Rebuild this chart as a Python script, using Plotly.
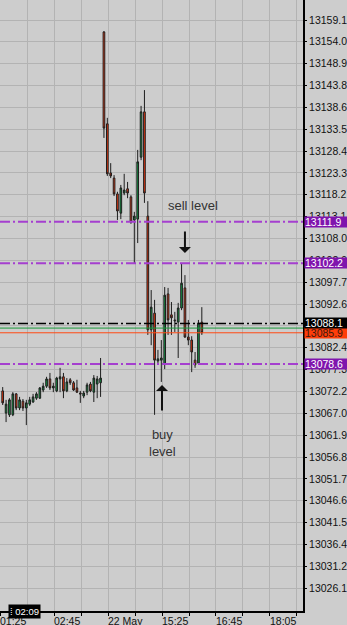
import plotly.graph_objects as go

# ---- data (5-minute candles, index = bar number) ----
bar_index = list(range(60))
opens = [13072.3, 13067.1, 13066.7, 13066.7, 13071.6, 13068.3, 13069.9, 13068.3, 13069.2, 13069.7,
         13070.6, 13070.6, 13072.5, 13073.4, 13075.1, 13073.0, 13072.3, 13075.1, 13075.6, 13072.3,
         13074.9, 13074.2, 13073.0, 13071.8, 13071.1, 13072.0, 13073.9, 13072.0, 13073.9, 13074.2,
         13156.3, 13134.8, 13123.3, 13122.1, 13118.4, 13113.9, 13118.6, 13119.6, 13117.7, 13112.3,
         13112.5, 13127.0, 13137.6, 13113.2, 13086.6, 13090.5, 13079.3, 13079.5, 13078.6, 13095.0,
         13090.1, 13088.9, 13088.4, 13091.7, 13096.4, 13084.9, 13084.2, 13079.5, 13078.8, 13088.4]
highs = [13073.2, 13070.2, 13070.6, 13072.0, 13071.8, 13070.9, 13070.4, 13070.2, 13070.9, 13071.6,
         13072.0, 13073.2, 13074.2, 13075.6, 13076.5, 13074.2, 13075.6, 13077.7, 13076.5, 13075.3,
         13075.3, 13074.6, 13074.9, 13072.3, 13072.3, 13074.2, 13074.4, 13076.0, 13075.8, 13080.0,
         13156.5, 13136.2, 13125.6, 13122.8, 13118.9, 13120.5, 13123.1, 13121.2, 13118.1, 13114.2,
         13128.7, 13139.0, 13142.7, 13116.7, 13095.9, 13093.6, 13081.9, 13084.2, 13096.6, 13096.4,
         13093.1, 13090.8, 13092.9, 13102.2, 13099.4, 13088.9, 13085.1, 13081.4, 13088.9, 13091.9]
lows = [13069.0, 13065.0, 13066.2, 13066.4, 13067.8, 13067.8, 13067.6, 13064.3, 13068.8, 13069.5,
        13070.2, 13070.4, 13072.0, 13073.0, 13072.5, 13072.0, 13072.0, 13072.0, 13070.6, 13072.0,
        13073.7, 13072.3, 13071.8, 13069.5, 13070.6, 13071.3, 13072.0, 13069.7, 13070.6, 13070.9,
        13131.5, 13122.6, 13122.1, 13117.9, 13112.3, 13112.5, 13118.1, 13117.4, 13111.4, 13102.0,
        13106.9, 13126.3, 13116.3, 13085.4, 13083.0, 13066.7, 13078.4, 13074.4, 13077.4, 13085.4,
        13085.4, 13086.1, 13080.0, 13091.2, 13084.7, 13083.0, 13076.7, 13077.7, 13078.6, 13085.4]
closes = [13069.5, 13069.2, 13070.2, 13071.6, 13068.3, 13070.2, 13068.3, 13069.5, 13070.2, 13070.9,
          13071.6, 13073.0, 13073.4, 13075.1, 13073.0, 13073.4, 13075.3, 13075.6, 13072.3, 13074.4,
          13074.2, 13072.5, 13072.0, 13071.6, 13071.8, 13073.7, 13072.3, 13075.3, 13075.1, 13075.3,
          13133.8, 13123.1, 13122.6, 13118.4, 13114.4, 13119.8, 13119.3, 13118.6, 13111.8, 13113.2,
          13125.9, 13137.6, 13118.6, 13086.6, 13091.9, 13079.5, 13079.8, 13080.0, 13094.7, 13088.9,
          13089.4, 13088.7, 13091.7, 13097.5, 13084.9, 13084.2, 13081.4, 13078.4, 13088.2, 13085.9]

y_ticks = [13159.1, 13154.0, 13148.9, 13143.8, 13138.6, 13133.5, 13128.4, 13123.3, 13118.2, 13113.1,
           13108.0, 13102.9, 13097.7, 13092.6, 13087.5, 13082.4, 13077.3, 13072.2, 13067.0, 13061.9,
           13056.8, 13051.7, 13046.6, 13041.5, 13036.4, 13031.2, 13026.1]
time_labels = ["01:25", "02:45", "22 May", "15:25", "16:45", "18:05"]

purple_levels = [13111.9, 13102.2, 13078.6]
ask_level = 13088.1
green_level = 13087.0
bid_level = 13085.9

BG = "#cdcdcd"
GRID = "#b3b3b3"
PURPLE_LINE = "#a53fcf"
PURPLE_BOX = "#7f14ad"
FONT = "Liberation Sans"

fig = go.Figure(go.Candlestick(
    x=bar_index, open=opens, high=highs, low=lows, close=closes,
    increasing=dict(line=dict(color="#1e1e1e", width=1), fillcolor="#139a45"),
    decreasing=dict(line=dict(color="#1e1e1e", width=1), fillcolor="#f5370c"),
    whiskerwidth=0, showlegend=False, hoverinfo="skip"))

x0 = -0.8
x1 = 88.98
grid_vals = [x0 + 8 * k for k in range(12)]

fig.update_layout(
    width=347, height=625,
    margin=dict(l=0, r=44, t=0, b=14),
    paper_bgcolor=BG, plot_bgcolor=BG,
    showlegend=False,
    font=dict(family=FONT, size=10.5, color="#111111"),
    xaxis=dict(range=[x0, x1], tickmode="array", tickvals=grid_vals,
               showticklabels=False, ticks="outside", ticklen=3, tickcolor="#000",
               showgrid=True, gridcolor=GRID, gridwidth=1,
               showline=True, linecolor="#000", linewidth=1.5,
               zeroline=False, rangeslider=dict(visible=False), fixedrange=True),
    yaxis=dict(side="right", range=[13020.79, 13163.78], tickmode="array",
               tickvals=y_ticks, tickformat=".1f",
               ticks="outside", ticklen=2, tickcolor="#000",
               showgrid=True, gridcolor=GRID, gridwidth=1,
               showline=True, linecolor="#000", linewidth=2,
               zeroline=False, fixedrange=True,
               tickfont=dict(family=FONT, size=10.5, color="#111111")),
)

# horizontal level lines
for lv in purple_levels:
    fig.add_shape(type="line", xref="paper", x0=0, x1=1, yref="y", y0=lv, y1=lv,
                  line=dict(color=PURPLE_LINE, width=2, dash="10px,3px,2px,3px"))
fig.add_shape(type="line", xref="paper", x0=0, x1=1, yref="y", y0=green_level, y1=green_level,
              line=dict(color="#1a9a3a", width=1))
fig.add_shape(type="line", xref="paper", x0=0, x1=1, yref="y", y0=bid_level, y1=bid_level,
              line=dict(color="#ff4a14", width=1))
fig.add_shape(type="line", xref="paper", x0=0, x1=1, yref="y", y0=ask_level, y1=ask_level,
              line=dict(color="#000000", width=1.5, dash="10px,3px,2px,3px"))

# price label boxes on the axis
def price_box(val, bg, fg):
    fig.add_annotation(x=1, xref="paper", xanchor="left", xshift=1,
                       y=val, yref="y", yanchor="middle",
                       text=f"{val:.1f}", showarrow=False,
                       bgcolor=bg, width=43, height=10, align="left", borderpad=0,
                       font=dict(family=FONT, size=10.5, color=fg))

for lv in purple_levels:
    price_box(lv, PURPLE_BOX, "#ffffff")
price_box(bid_level, "#ff3d0a", "#3a1a10")
price_box(ask_level, "#000000", "#ffffff")

# x-axis time labels (left aligned at every second grid line)
for k, lab in enumerate(time_labels):
    fig.add_annotation(x=grid_vals[2 * k], xref="x", xanchor="left", xshift=-2,
                       y=0, yref="paper", yanchor="top", yshift=-2,
                       text=lab, showarrow=False,
                       font=dict(family=FONT, size=10.5, color="#111111"))

# crosshair time box
fig.add_annotation(x=7.5 / 303, xref="paper", xanchor="left",
                   y=0, yref="paper", yanchor="middle",
                   text="⁞ 02:09", showarrow=False, bgcolor="#000000",
                   borderpad=1, font=dict(family=FONT, size=9.5, color="#ffffff"))

# text notes and arrows
fig.add_annotation(x=56.4, y=13115.8, text="sell level", showarrow=False,
                   font=dict(family=FONT, size=13, color="#333333"))
fig.add_annotation(x=47.2, y=13060.1, text="buy<br>level", showarrow=False,
                   font=dict(family=FONT, size=13, color="#333333"))
fig.add_annotation(x=54.0, y=13104.6, ax=0, ay=-23, text="", showarrow=True,
                   arrowhead=1, arrowsize=1, arrowwidth=2, arrowcolor="#111111")
fig.add_annotation(x=47.2, y=13073.7, ax=0, ay=27, text="", showarrow=True,
                   arrowhead=1, arrowsize=1, arrowwidth=2, arrowcolor="#111111")

fig.write_html("out.html", config=dict(displayModeBar=False))
